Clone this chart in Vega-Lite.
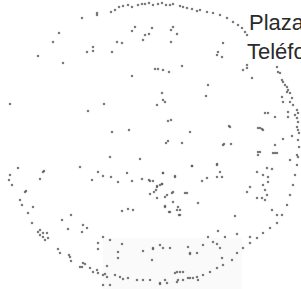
{
  "$schema": "https://vega.github.io/schema/vega-lite/v6.json",
  "width": 301,
  "height": 289,
  "autosize": {"type": "fit", "contains": "padding"},
  "padding": 0,
  "background": "white",
  "config": {"view": {"stroke": null}},
  "datasets": {
    "dots": [
      {"x":111,"y":12},{"x":115,"y":10},{"x":119,"y":7},{"x":123,"y":6},{"x":128,"y":5},{"x":132,"y":7},{"x":138,"y":5},{"x":142,"y":4},{"x":145,"y":4},{"x":149,"y":3},{"x":153,"y":5},{"x":158,"y":4},{"x":162,"y":3},{"x":166,"y":5},{"x":170,"y":5},{"x":173,"y":4},{"x":180,"y":6},{"x":183,"y":7},{"x":187,"y":8},{"x":192,"y":9},{"x":197,"y":11},
      {"x":200,"y":10},{"x":207,"y":12},{"x":213,"y":13},{"x":220,"y":15},{"x":227,"y":18},{"x":233,"y":22},{"x":238,"y":25},{"x":242,"y":28},{"x":245,"y":32},{"x":247,"y":35},
      {"x":247,"y":65},{"x":243,"y":70},{"x":252,"y":78},{"x":277,"y":67},{"x":278,"y":72},{"x":280,"y":73},{"x":282,"y":80},{"x":283,"y":82},{"x":285,"y":85},{"x":287,"y":87},{"x":288,"y":90},{"x":287,"y":92},{"x":290,"y":93},{"x":292,"y":98},{"x":282,"y":97},{"x":283,"y":102},{"x":290,"y":102},{"x":293,"y":105},{"x":297,"y":110},{"x":298,"y":113},{"x":295,"y":115},{"x":297,"y":118},{"x":298,"y":122},{"x":297,"y":127},{"x":298,"y":130},{"x":299,"y":133},{"x":298,"y":140},{"x":299,"y":147},{"x":298,"y":157},
      {"x":297,"y":155},{"x":297,"y":165},{"x":295,"y":175},{"x":293,"y":185},{"x":290,"y":195},{"x":287,"y":205},{"x":282,"y":215},{"x":277,"y":223},{"x":270,"y":228},{"x":263,"y":233},{"x":257,"y":238},{"x":250,"y":243},{"x":243,"y":248},{"x":237,"y":253},{"x":232,"y":260},{"x":223,"y":265},{"x":217,"y":268},{"x":210,"y":272},{"x":203,"y":275},{"x":197,"y":277},{"x":190,"y":278},{"x":183,"y":280},{"x":177,"y":282},{"x":167,"y":283},{"x":160,"y":284},
      {"x":208,"y":85},{"x":206,"y":96},{"x":265,"y":113},{"x":268,"y":113},{"x":275,"y":117},{"x":288,"y":112},{"x":288,"y":117},{"x":229,"y":126},{"x":258,"y":128},{"x":262,"y":129},{"x":224,"y":144},{"x":231,"y":144},{"x":260,"y":152},{"x":258,"y":155},{"x":275,"y":145},{"x":277,"y":153},{"x":283,"y":139},{"x":292,"y":136},
      {"x":258,"y":152},{"x":275,"y":153},{"x":290,"y":160},{"x":217,"y":164},{"x":192,"y":166},{"x":220,"y":172},{"x":222,"y":177},{"x":217,"y":177},{"x":207,"y":178},{"x":202,"y":181},{"x":257,"y":172},{"x":263,"y":175},{"x":268,"y":177},{"x":267,"y":168},{"x":272,"y":169},{"x":263,"y":185},{"x":265,"y":190},{"x":267,"y":195},{"x":268,"y":182},{"x":250,"y":187},{"x":247,"y":192},{"x":257,"y":198},{"x":262,"y":198},{"x":265,"y":200},{"x":272,"y":210},{"x":277,"y":215},{"x":235,"y":216},{"x":163,"y":173},{"x":175,"y":177},{"x":157,"y":187},{"x":162,"y":184},{"x":150,"y":181},{"x":167,"y":195},{"x":173,"y":192},{"x":185,"y":193},{"x":198,"y":203},{"x":165,"y":207},{"x":178,"y":207},{"x":180,"y":210},{"x":170,"y":212},{"x":180,"y":215},{"x":218,"y":231},{"x":237,"y":234},{"x":208,"y":237},{"x":225,"y":237},{"x":250,"y":237},{"x":160,"y":245},{"x":153,"y":248},{"x":170,"y":248},{"x":190,"y":253},{"x":197,"y":253},{"x":203,"y":245},{"x":217,"y":244},{"x":213,"y":242},{"x":220,"y":248},{"x":222,"y":258},{"x":177,"y":272},{"x":183,"y":272},{"x":165,"y":280},
      {"x":122,"y":211},{"x":128,"y":209},{"x":133,"y":210},{"x":165,"y":206},{"x":173,"y":202},{"x":169,"y":212},{"x":177,"y":210},{"x":179,"y":215},{"x":103,"y":237},{"x":110,"y":240},{"x":122,"y":244},{"x":118,"y":252},{"x":143,"y":251},{"x":153,"y":249},{"x":163,"y":248},{"x":152,"y":260},{"x":188,"y":247},{"x":190,"y":254},{"x":107,"y":266},{"x":118,"y":258},{"x":105,"y":274},{"x":107,"y":277},{"x":115,"y":275},{"x":120,"y":277},{"x":123,"y":279},{"x":128,"y":278},{"x":137,"y":280},{"x":143,"y":280},{"x":150,"y":280},{"x":160,"y":283},{"x":175,"y":273},{"x":180,"y":272},{"x":178,"y":280},{"x":188,"y":278},{"x":193,"y":278},{"x":198,"y":280},{"x":103,"y":285},{"x":110,"y":285},
      {"x":22,"y":205},{"x":33,"y":207},{"x":28,"y":213},{"x":32,"y":223},{"x":71,"y":215},{"x":62,"y":220},{"x":68,"y":229},{"x":83,"y":225},{"x":87,"y":228},{"x":82,"y":232},{"x":38,"y":232},{"x":43,"y":233},{"x":47,"y":233},{"x":40,"y":235},{"x":43,"y":237},{"x":48,"y":238},{"x":45,"y":240},{"x":58,"y":249},{"x":60,"y":253},{"x":69,"y":255},{"x":71,"y":261},{"x":83,"y":263},{"x":85,"y":264},{"x":82,"y":267},{"x":90,"y":268},{"x":97,"y":270},{"x":98,"y":273},{"x":98,"y":243},{"x":98,"y":249},{"x":93,"y":272},{"x":80,"y":267},
      {"x":10,"y":104},{"x":88,"y":111},{"x":18,"y":168},{"x":10,"y":175},{"x":9,"y":180},{"x":12,"y":185},{"x":44,"y":171},{"x":40,"y":179},{"x":80,"y":167},{"x":98,"y":172},{"x":92,"y":180},{"x":26,"y":191},
      {"x":97,"y":13},{"x":97,"y":15},{"x":82,"y":18},{"x":59,"y":33},{"x":53,"y":42},{"x":38,"y":56},{"x":63,"y":63},{"x":93,"y":47},{"x":93,"y":51},{"x":87,"y":52},
      {"x":135,"y":27},{"x":132,"y":31},{"x":152,"y":28},{"x":145,"y":35},{"x":149,"y":34},{"x":143,"y":40},{"x":173,"y":27},{"x":171,"y":30},{"x":177,"y":34},{"x":171,"y":42},{"x":117,"y":42},{"x":122,"y":43},{"x":112,"y":52},{"x":155,"y":69},{"x":158,"y":69},{"x":163,"y":70},{"x":169,"y":72},{"x":182,"y":66},{"x":132,"y":76},{"x":162,"y":93},
      {"x":104,"y":104},{"x":157,"y":105},{"x":165,"y":102},{"x":168,"y":121},{"x":171,"y":120},{"x":112,"y":132},{"x":129,"y":130},{"x":190,"y":132},{"x":168,"y":141},{"x":166,"y":143},{"x":182,"y":143},{"x":110,"y":157},{"x":140,"y":159},{"x":192,"y":166},{"x":103,"y":176},{"x":111,"y":177},{"x":127,"y":173},{"x":118,"y":182},{"x":132,"y":181},{"x":142,"y":179},{"x":149,"y":180},{"x":153,"y":181},{"x":163,"y":173},{"x":175,"y":176},{"x":162,"y":184},{"x":160,"y":185},{"x":157,"y":186},{"x":156,"y":190},{"x":154,"y":192},{"x":150,"y":194},{"x":157,"y":198},{"x":165,"y":197},{"x":172,"y":193},{"x":187,"y":193},
      {"x":218,"y":52},{"x":217,"y":55},{"x":222,"y":57},{"x":223,"y":43},{"x":247,"y":68},{"x":163,"y":100},{"x":230,"y":127},{"x":260,"y":128},{"x":263,"y":130},{"x":223,"y":145},{"x":217,"y":165},{"x":43,"y":172},{"x":273,"y":153},{"x":25,"y":192},{"x":20,"y":200},{"x":40,"y":230},{"x":70,"y":257},{"x":103,"y":275}
    ],
    "labels": [
      {"label": "Plaza", "x": 249, "y": 30},
      {"label": "Teléfo", "x": 247, "y": 59}
    ],
    "patch": [
      {"x": 103, "x2": 242, "y": 238, "y2": 289}
    ]
  },
  "layer": [
    {
      "data": {"name": "patch"},
      "mark": {"type": "rect", "color": "#fafafa", "clip": true},
      "encoding": {
        "x": {"field": "x", "type": "quantitative", "scale": {"domain": [0, 301], "nice": false, "zero": false}, "axis": null},
        "x2": {"field": "x2"},
        "y": {"field": "y", "type": "quantitative", "scale": {"domain": [0, 289], "nice": false, "zero": false, "reverse": true}, "axis": null},
        "y2": {"field": "y2"}
      }
    },
    {
      "data": {"name": "dots"},
      "mark": {"type": "square", "size": 5, "color": "#5a5a5a", "opacity": 0.8, "clip": true},
      "encoding": {
        "x": {"field": "x", "type": "quantitative", "scale": {"domain": [0, 301], "nice": false, "zero": false}, "axis": null},
        "y": {"field": "y", "type": "quantitative", "scale": {"domain": [0, 289], "nice": false, "zero": false, "reverse": true}, "axis": null}
      }
    },
    {
      "data": {"name": "labels"},
      "mark": {"type": "text", "align": "left", "baseline": "alphabetic", "font": "Liberation Sans", "fontSize": 22, "color": "#2a2a2a", "clip": true},
      "encoding": {
        "x": {"field": "x", "type": "quantitative", "scale": {"domain": [0, 301], "nice": false, "zero": false}, "axis": null},
        "y": {"field": "y", "type": "quantitative", "scale": {"domain": [0, 289], "nice": false, "zero": false, "reverse": true}, "axis": null},
        "text": {"field": "label"}
      }
    }
  ]
}
